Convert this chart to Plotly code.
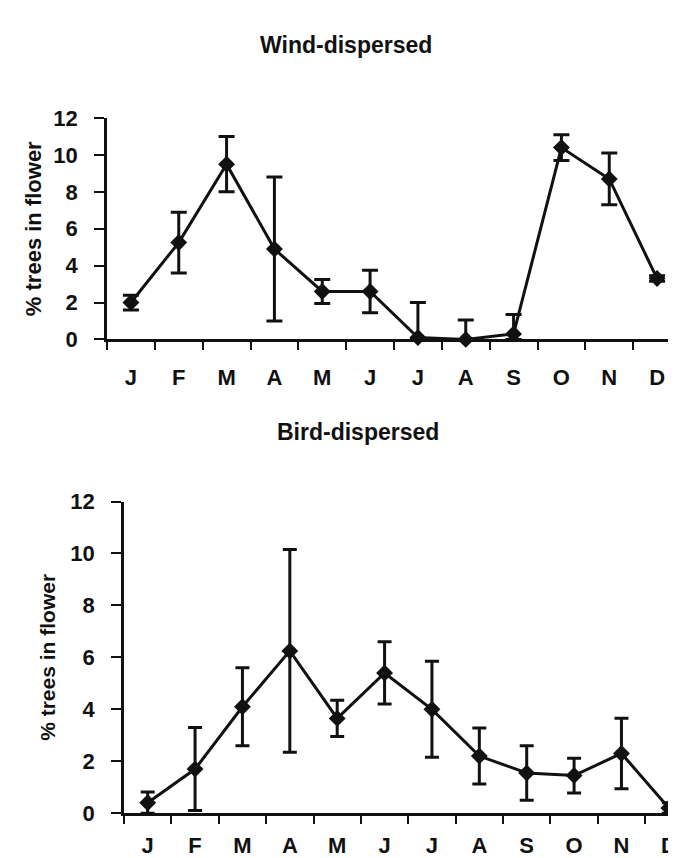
import numpy as np
import plotly.graph_objects as go

# Monthly flowering, % of trees (mean +/- error)
months = ['J', 'F', 'M', 'A', 'M', 'J', 'J', 'A', 'S', 'O', 'N', 'D']
month_idx = list(range(12))

wind_pct = [2.0, 5.25, 9.5, 4.9, 2.6, 2.6, 0.1, 0.0, 0.3, 10.4, 8.7, 3.3]
wind_err = [0.4, 1.65, 1.5, 3.9, 0.65, 1.15, 1.9, 1.05, 1.05, 0.7, 1.4, 0.15]

bird_pct = [0.4, 1.7, 4.1, 6.25, 3.65, 5.4, 4.0, 2.2, 1.55, 1.45, 2.3, 0.2]
bird_err = [0.42, 1.6, 1.5, 3.9, 0.7, 1.2, 1.85, 1.08, 1.05, 0.67, 1.36, 0.2]

INK = '#111111'
FONT = 'Liberation Sans, Arial, sans-serif'


def add_series(fig, y, err, xa, ya, cap):
    fig.add_trace(go.Scatter(
        x=month_idx, y=y,
        xaxis=xa, yaxis=ya,
        mode='lines+markers',
        line=dict(color=INK, width=3),
        marker=dict(symbol='diamond', size=13, color=INK),
        error_y=dict(
            type='data', symmetric=False,
            array=err,
            arrayminus=list(np.minimum(err, y)),
            color=INK, thickness=3, width=cap,
        ),
        cliponaxis=False,
        showlegend=False,
    ))


fig = go.Figure()
add_series(fig, wind_pct, wind_err, 'x', 'y', 8)
add_series(fig, bird_pct, bird_err, 'x2', 'y2', 7)

xaxis_common = dict(
    tickmode='array', tickvals=month_idx, ticktext=months, ticks='',
    showline=True, linecolor=INK, linewidth=2.5,
    showgrid=False, zeroline=False,
    tickfont=dict(family=FONT, size=22, color=INK, weight='bold'),
    minor=dict(tickmode='array', tickvals=[i - 0.5 for i in range(13)],
               ticks='outside', ticklen=8, tickwidth=2, tickcolor=INK,
               showgrid=False),
    fixedrange=True,
)
yaxis_common = dict(
    tickmode='linear', tick0=0, dtick=2,
    ticks='outside', ticklen=10, tickwidth=2, tickcolor=INK,
    showline=True, linecolor=INK, linewidth=2.5,
    showgrid=False, zeroline=False,
    tickfont=dict(family=FONT, size=22, color=INK, weight='bold'),
    fixedrange=True,
)

fig.update_layout(
    width=676, height=858,
    margin=dict(l=0, r=0, t=0, b=0),
    paper_bgcolor='white', plot_bgcolor='white',
    xaxis=dict(xaxis_common, domain=[99 / 676, 673 / 676], range=[-0.5, 11.5],
               anchor='y', ticklabelstandoff=16),
    yaxis=dict(yaxis_common, domain=[1 - 329 / 858, 1 - 101 / 858], range=[0, 12],
               anchor='x', ticklabelstandoff=12,
               title=dict(text='% trees in flower', standoff=6,
                          font=dict(family=FONT, size=22, color=INK, weight='bold'))),
    xaxis2=dict(xaxis_common, domain=[116 / 676, 1.0], range=[-0.5, 11.32],
                anchor='y2', ticklabelstandoff=11),
    yaxis2=dict(yaxis_common, domain=[1 - 817 / 858, 1 - 496 / 858], range=[0, 12],
                anchor='x2', ticklabelstandoff=12,
                title=dict(text='% trees in flower', standoff=10,
                           font=dict(family=FONT, size=21, color=INK, weight='bold'))),
    annotations=[
        dict(text='Wind-dispersed', x=338 / 676, y=1 - 26 / 858,
             xref='paper', yref='paper', showarrow=False,
             xanchor='center', yanchor='middle',
             font=dict(family=FONT, size=23, color=INK, weight='bold')),
        dict(text='Bird-dispersed', x=350 / 676, y=1 - 424 / 858,
             xref='paper', yref='paper', showarrow=False,
             xanchor='center', yanchor='middle',
             font=dict(family=FONT, size=23, color=INK, weight='bold')),
    ],
)

fig.write_html("out.html")
